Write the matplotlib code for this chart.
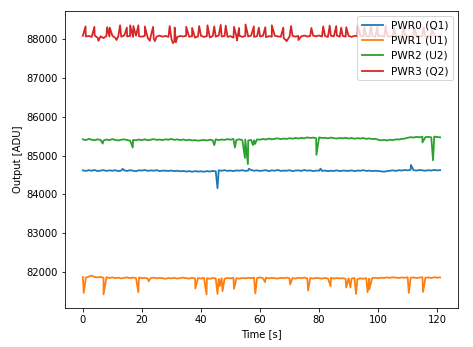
import numpy as np
import matplotlib
matplotlib.use('Agg')
from matplotlib import pyplot as plt

# baseline readings, one per second (t = 0 .. 121 s)
time_s = np.arange(0, 122)

pwr0 = [84620, 84605, 84625, 84610, 84630, 84600, 84615, 84625, 84605, 84620,
        84610, 84625, 84600, 84615, 84620, 84605, 84625, 84610, 84600, 84620,
        84615, 84630, 84605, 84620, 84610, 84625, 84600, 84615, 84610, 84605,
        84615, 84600, 84610, 84595, 84605, 84590, 84600, 84585, 84600, 84590,
        84595, 84585, 84600, 84590, 84605, 84595, 84620, 84610, 84625, 84605,
        84615, 84600, 84620, 84610, 84625, 84605, 84615, 84630, 84610, 84620,
        84605, 84615, 84625, 84600, 84620, 84610, 84630, 84605, 84615, 84610,
        84625, 84600, 84615, 84620, 84605, 84630, 84610, 84620, 84600, 84615,
        84610, 84605, 84615, 84600, 84610, 84605, 84620, 84600, 84615, 84610,
        84605, 84620, 84600, 84615, 84610, 84625, 84605, 84615, 84600, 84610,
        84605, 84595, 84585, 84600, 84610, 84620, 84605, 84625, 84615, 84630,
        84620, 84635, 84625, 84615, 84630, 84620, 84610, 84625, 84615, 84630, 84620, 84625]

pwr1 = [81870, 81855, 81880, 81905, 81870, 81860, 81875, 81850, 81865, 81845,
        81860, 81840, 81855, 81835, 81850, 81860, 81840, 81855, 81845, 81860,
        81840, 81850, 81830, 81845, 81855, 81835, 81850, 81840, 81825, 81845,
        81835, 81850, 81830, 81845, 81855, 81840, 81830, 81850, 81835, 81845,
        81830, 81850, 81840, 81825, 81845, 81835, 81820, 81840, 81830, 81845,
        81835, 81850, 81840, 81830, 81845, 81835, 81850, 81840, 81855, 81845,
        81860, 81840, 81855, 81835, 81850, 81840, 81830, 81850, 81840, 81855,
        81835, 81845, 81830, 81850, 81840, 81855, 81835, 81845, 81830, 81850,
        81840, 81830, 81845, 81835, 81850, 81830, 81845, 81835, 81840, 81825,
        81840, 81830, 81845, 81820, 81835, 81825, 81840, 81830, 81845, 81850,
        81840, 81855, 81845, 81860, 81850, 81865, 81855, 81845, 81860, 81850,
        81865, 81850, 81860, 81845, 81855, 81865, 81850, 81860, 81845, 81865, 81855, 81860]

pwr2 = [85420, 85400, 85430, 85410, 85395, 85420, 85405, 85390, 85415, 85400,
        85425, 85405, 85390, 85410, 85420, 85400, 85385, 85405, 85395, 85415,
        85400, 85420, 85395, 85410, 85425, 85405, 85415, 85400, 85420, 85410,
        85430, 85405, 85420, 85400, 85415, 85395, 85410, 85390, 85400, 85385,
        85395, 85405, 85390, 85410, 85395, 85420, 85400, 85415, 85405, 85425,
        85410, 85430, 85405, 85420, 85400, 85415, 85390, 85405, 85395, 85420,
        85410, 85430, 85415, 85440, 85420, 85435, 85445, 85425, 85440, 85430,
        85450, 85435, 85455, 85440, 85460, 85445, 85470, 85455, 85465, 85450,
        85470, 85455, 85460, 85445, 85465, 85450, 85440, 85455, 85445, 85460,
        85440, 85455, 85435, 85450, 85440, 85455, 85430, 85445, 85425, 85435,
        85410, 85395, 85405, 85390, 85410, 85400, 85420, 85415, 85430, 85440,
        85460, 85475, 85465, 85485, 85470, 85490, 85475, 85485, 85470, 85490, 85480, 85470]

pwr3 = [88090, 88070, 88085, 88060, 88095, 88040, 88075, 88030, 88085, 88070,
        88090, 88035, 88080, 88065, 88095, 88070, 88085, 88060, 88090, 88075,
        88065, 88090, 88030, 88080, 88020, 88070, 88095, 88065, 88085, 88060,
        88010, 87950, 88060, 88085, 88070, 88090, 88065, 88080, 88040, 88075,
        88090, 88060, 88080, 88045, 88085, 88065, 88095, 88070, 88085, 88060,
        88080, 88040, 88075, 88090, 88060, 88085, 88070, 88095, 88060, 88080,
        88070, 88090, 88055, 88080, 88065, 88090, 88075, 88060, 88030, 87960,
        88070, 88090, 88065, 88085, 88075, 88095, 88070, 88085, 88090, 88075,
        88095, 88070, 88085, 88060, 88090, 88075, 88095, 88065, 88085, 88070,
        88085, 88060, 88090, 88075, 88095, 88065, 88085, 88070, 88090, 88060,
        88080, 88095, 88065, 88085, 88070, 88090, 88060, 88085, 88075, 88095,
        88070, 88085, 88060, 88090, 88075, 88085, 88065, 88090, 88070, 88085, 88075, 88080]

pwr0_glitch_t = [13.5, 45.6, 56.2, 80.5, 111.1]
pwr0_glitch_v = [84660, 84160, 84660, 84665, 84760]

pwr1_glitch_t = [0.3, 7.0, 18.8, 22.3, 38.1, 41.9, 45.6, 46.4, 47.3, 51.2, 58.4, 61.7,
                 70.2, 76.3, 83.9, 89.2, 90.6, 92.5, 96.4, 97.0, 110.4, 115.2]
pwr1_glitch_v = [81460, 81420, 81480, 81760, 81575, 81420, 81435, 81640, 81505, 81565, 81445, 81740,
                 81680, 81520, 81635, 81600, 81600, 81435, 81480, 81550, 81460, 81485]

pwr2_glitch_t = [6.7, 16.9, 44.5, 51.5, 54.9, 55.9, 57.6, 58.3, 79.1, 115.0, 118.6]
pwr2_glitch_v = [85310, 85210, 85270, 85210, 84940, 84780, 85270, 85300, 85020, 85340, 84880]

pwr3_glitch_t = [0.9, 3.9, 5.3, 8.2, 9.1, 11.4, 12.6, 14.9, 16.0, 17.1, 18.8, 21.0, 22.7,
                 23.8, 24.4, 29.4, 30.5, 31.1, 31.5, 35.0, 37.0, 39.4, 42.2, 44.5, 46.7,
                 48.4, 51.2, 52.2, 52.9, 55.1, 57.9, 59.6, 61.8, 64.0, 67.9, 69.0, 70.5,
                 73.0, 77.4, 81.4, 83.6, 85.8, 87.5, 89.2, 93.1, 95.3, 97.6, 99.8, 102.6,
                 105.4, 108.7, 112.1, 115.4, 118.2]
pwr3_glitch_v = [88330, 88320, 87960, 88310, 88300, 87980, 88360, 88300, 88360, 88340, 88360, 88330, 87960,
                 88320, 87950, 88340, 87900, 88300, 87920, 88320, 88290, 88340, 88360, 88330, 88370,
                 88350, 88320, 87970, 88290, 88380, 88330, 88300, 88310, 88360, 88300, 87950, 88340,
                 87980, 88290, 88330, 88350, 88340, 88300, 88310, 88350, 88310, 88340, 88320, 88350,
                 88310, 88330, 88340, 88310, 88330]

labels = ['PWR0 (Q1)', 'PWR1 (U1)', 'PWR2 (U2)', 'PWR3 (Q2)']


def merge(base, gt, gv):
    t = np.concatenate((time_s, gt))
    v = np.concatenate((base, gv))
    order = np.argsort(t, kind='stable')
    return t[order], v[order]


series = [(pwr0, pwr0_glitch_t, pwr0_glitch_v),
          (pwr1, pwr1_glitch_t, pwr1_glitch_v),
          (pwr2, pwr2_glitch_t, pwr2_glitch_v),
          (pwr3, pwr3_glitch_t, pwr3_glitch_v)]

fig = plt.figure(figsize=(473 / 72, 347 / 72), dpi=72)
ax = fig.add_axes([0.1374, 0.1124, 0.8309, 0.8559])

for (base, gt, gv), label in zip(series, labels):
    t, v = merge(base, gt, gv)
    ax.plot(t, v, label=label, lw=1.8)

ax.set_xlabel('Time [s]')
ax.set_ylabel('Output [ADU]')
ax.legend(loc='upper right', fontsize=10.5)

fig.savefig('out.png', dpi=72)
